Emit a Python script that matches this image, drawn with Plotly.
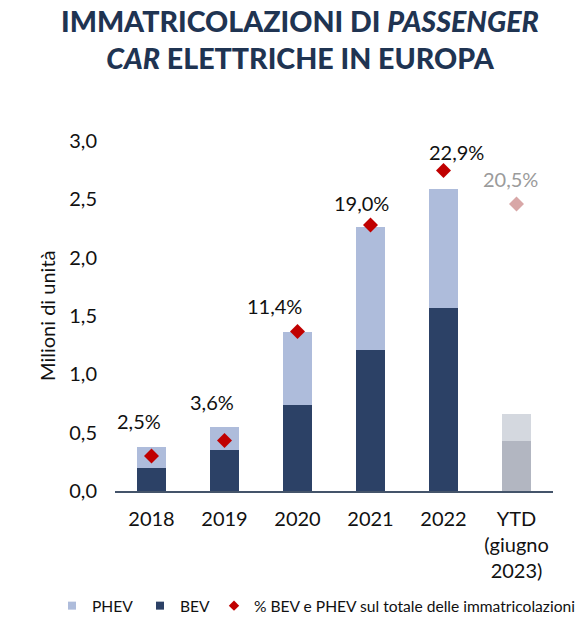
import plotly.graph_objects as go

# ---- data ----
categories = ["2018", "2019", "2020", "2021", "2022", "YTD<br>(giugno<br>2023)"]
bev = [0.20, 0.35, 0.74, 1.21, 1.57, 0.43]
phev = [0.18, 0.20, 0.62, 1.05, 1.02, 0.23]
share_pct = [2.5, 3.6, 11.4, 19.0, 22.9, 20.5]
y_ticks = [0.0, 0.5, 1.0, 1.5, 2.0, 2.5, 3.0]

# ---- styles ----
FONT = "Lato"
NAVY = "#2c4166"
LIGHT = "#aebcdb"
RED = "#c00000"
bev_colors = [NAVY] * 5 + ["#b2b6c1"]
phev_colors = [LIGHT] * 5 + ["#d4d8df"]
dia_colors = [RED] * 5 + ["#d8a7a7"]
lab_colors = ["#111111"] * 5 + ["#9b9b9b"]
label_shift = [(-13, 35), (-13, 39), (-23, 25), (-9, 22), (13, 18), (-6, 25)]

# page has an 8px body margin, so the figure is 8px smaller than the window
W, H = 577, 622
PL, PR, PT, PB = 107, 32, 133, 139
PW = W - PL - PR

fig = go.Figure()
fig.add_trace(go.Bar(x=categories, y=bev, marker=dict(color=bev_colors, line=dict(width=0)),
                     width=0.4, showlegend=False, name="BEV"))
fig.add_trace(go.Bar(x=categories, y=phev, marker=dict(color=phev_colors, line=dict(width=0)),
                     width=0.4, showlegend=False, name="PHEV"))
fig.add_trace(go.Scatter(x=categories, y=share_pct, yaxis="y2", mode="markers",
                         marker=dict(symbol="diamond", size=11.5, color=dia_colors, line=dict(width=0)),
                         showlegend=False, name="%"))

# legend entries
fig.add_trace(go.Scatter(x=[None], y=[None], mode="markers", name="PHEV",
                         marker=dict(symbol="square", size=8, color=LIGHT), legend="legend"))
fig.add_trace(go.Scatter(x=[None], y=[None], mode="markers", name="BEV",
                         marker=dict(symbol="square", size=8, color=NAVY), legend="legend2"))
fig.add_trace(go.Scatter(x=[None], y=[None], mode="markers",
                         name="% BEV e PHEV sul totale delle immatricolazioni",
                         marker=dict(symbol="diamond", size=8, color=RED), legend="legend3"))

for i, (v, col, (dx, dy)) in enumerate(zip(share_pct, lab_colors, label_shift)):
    fig.add_annotation(x=i, y=v, xref="x", yref="y2", showarrow=False,
                       text=f"{v:.1f}".replace(".", ",") + "%",
                       font=dict(family=FONT, size=20, color=col),
                       xshift=dx, yshift=dy)

fig.add_annotation(x=-68 / PW, y=0.5, xref="paper", yref="paper", showarrow=False,
                   xanchor="center", yanchor="middle",
                   text="Milioni di unità", textangle=-90,
                   font=dict(family=FONT, size=20, color="#111111"))

leg_common = dict(orientation="h", yanchor="middle", y=-115 / 350, xanchor="left",
                  font=dict(family=FONT, size=15.6, color="#111111"),
                  bgcolor="rgba(0,0,0,0)", borderwidth=0, itemwidth=30)

fig.update_layout(
    width=W, height=H,
    margin=dict(l=PL, r=PR, t=PT, b=PB, autoexpand=False),
    paper_bgcolor="white", plot_bgcolor="white",
    barmode="stack",
    separators=",.",
    font=dict(family=FONT, color="#111111"),
    title=dict(text="IMMATRICOLAZIONI DI <i>PASSENGER</i><br><i>CAR</i> ELETTRICHE IN EUROPA",
               font=dict(family=FONT, size=28.6, weight=900, color="#1f3452"),
               x=292 / W, xanchor="center", xref="container",
               y=1 - 24 / H, yanchor="top", yref="container"),
    xaxis=dict(type="category", range=[-0.5, 5.5], showline=True, linecolor="#44546a",
               linewidth=1.5, showgrid=False,
               ticks="", tickfont=dict(family=FONT, size=20, color="#111111"),
               ticklabelstandoff=9, zeroline=False),
    yaxis=dict(range=[0, 3.0], tickvals=y_ticks, tickformat=".1f", showgrid=False,
               showline=False, zeroline=False, ticks="",
               tickfont=dict(family=FONT, size=20, color="#111111"),
               ticklabelstandoff=17),
    yaxis2=dict(range=[0, 25], overlaying="y", visible=False),
    legend=dict(x=(44 - PL) / PW, **leg_common),
    legend2=dict(x=(132 - PL) / PW, **leg_common),
    legend3=dict(x=(206 - PL) / PW, **leg_common),
)

fig.write_html("out.html")
